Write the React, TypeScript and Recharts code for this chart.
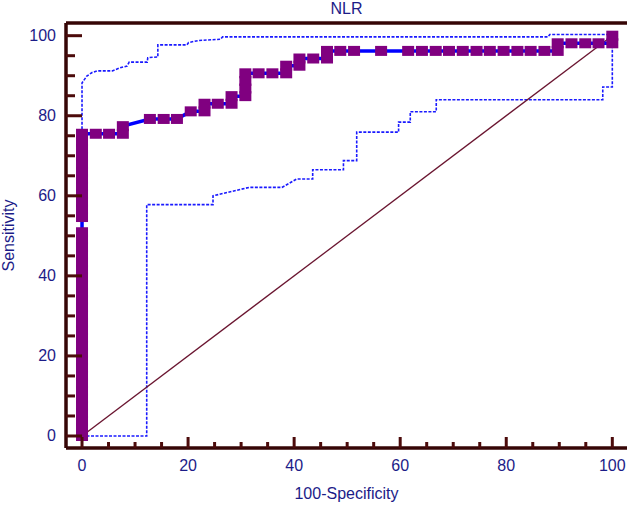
import React from "react"
import { ComposedChart, Line, XAxis, YAxis, Label } from "recharts"

// ROC curve for NLR
const rocSensAtZero = [
  0, 1.9, 3.8, 5.7, 7.5, 9.4, 11.3, 13.2, 15.1, 17.0, 18.9, 20.8, 22.6, 24.5,
  26.4, 28.3, 30.2, 32.1, 34.0, 35.8, 37.7, 39.6, 41.5, 43.4, 45.3, 47.2, 49.1,
  50.9, 54.7, 56.6, 58.5, 60.4, 62.3, 64.2, 66.0, 67.9, 69.8, 71.7, 73.6, 75.5,
]
const rocFpr = [
  2.6, 5.1, 7.7, 7.7, 12.8, 15.4, 17.9, 20.5, 23.1, 23.1, 25.6, 28.2, 28.2,
  30.8, 30.8, 30.8, 30.8, 33.3, 35.9, 38.5, 38.5, 41.0, 41.0, 43.6, 46.2, 46.2,
  48.7, 51.3, 56.4, 61.5, 64.1, 66.7, 69.2, 71.8, 74.4, 76.9, 79.5, 82.1, 84.6,
  87.2, 89.7, 89.7, 92.3, 94.9, 97.4, 100, 100,
]
const rocSens = [
  75.5, 75.5, 75.5, 77.4, 79.2, 79.2, 79.2, 81.1, 81.1, 83.0, 83.0, 83.0, 84.9,
  84.9, 86.8, 88.7, 90.6, 90.6, 90.6, 90.6, 92.5, 92.5, 94.3, 94.3, 94.3, 96.2,
  96.2, 96.2, 96.2, 96.2, 96.2, 96.2, 96.2, 96.2, 96.2, 96.2, 96.2, 96.2, 96.2,
  96.2, 96.2, 98.1, 98.1, 98.1, 98.1, 98.1, 100,
]

// 95% confidence bounds
const upperFpr = [
  0, 0, 0.9, 1.9, 2.8, 5.7, 7.2, 8.5, 8.9, 12.3, 12.4, 14.3, 14.3, 19.8, 20.1,
  22.0, 26.1, 26.5, 87.9, 88.2, 100,
]
const upperSens = [
  75.5, 88.2, 89.9, 90.8, 91.2, 91.2, 92.0, 92.4, 93.4, 93.4, 94.5, 94.7, 97.7,
  97.7, 98.3, 98.8, 99.1, 99.7, 99.7, 100.3, 100.3,
]
const lowerFpr = [
  0, 12.2, 12.2, 24.7, 24.7, 31.5, 37.7, 40.5, 43.5, 43.5, 49.3, 49.3, 51.8,
  51.8, 59.7, 59.7, 61.9, 61.9, 66.8, 66.8, 98.2, 98.2, 100, 100,
]
const lowerSens = [
  0, 0, 57.8, 57.8, 60.0, 62.1, 62.1, 64.2, 64.2, 66.5, 66.5, 68.8, 68.8, 75.9,
  75.9, 78.4, 78.4, 81.0, 81.0, 84.0, 84.0, 87.2, 87.2, 100,
]

const diagFpr = [0, 100]
const diagSens = [0, 100]

const axisTicks = [0, 5, 10, 15, 20, 25, 30, 35, 40, 45, 50, 55, 60, 65, 70, 75, 80, 85, 90, 95, 100]

const zip = (xs: number[], ys: number[]) => xs.map((x, i) => ({ fpr: x, sens: ys[i] }))

const rocData = [...rocSensAtZero.map((s) => ({ fpr: 0, sens: s })), ...zip(rocFpr, rocSens)]
const upperData = zip(upperFpr, upperSens)
const lowerData = zip(lowerFpr, lowerSens)
const diagData = zip(diagFpr, diagSens)

const FONT = "'Liberation Sans', Arial, sans-serif"
const TEXT = "#1c1c88"
const FRAME = "#360606"
const TICK = "#4c0b0b"
const xDomain = [-3.02, 102.77]
const yDomain = [-3.0, 103.17]

function YTick(props: any) {
  const { x, y, payload } = props
  const major = payload.value % 20 === 0
  return (
    <g>
      <line x1={x} y1={y} x2={x + (major ? 16 : 9)} y2={y} stroke={TICK} strokeWidth={3} />
      {major && (
        <text x={x - 10} y={y} dy={5.5} textAnchor="end" fill={TEXT} fontSize={16} fontFamily={FONT}>
          {payload.value}
        </text>
      )}
    </g>
  )
}

function XTick(props: any) {
  const { x, y, payload } = props
  const major = payload.value % 20 === 0
  return (
    <g>
      <line x1={x} y1={y} x2={x} y2={y - (major ? 11 : 6)} stroke={TICK} strokeWidth={3} />
      {major && (
        <text x={x} y={y + 23} textAnchor="middle" fill={TEXT} fontSize={16} fontFamily={FONT}>
          {payload.value}
        </text>
      )}
    </g>
  )
}

function Marker(props: any) {
  const { cx, cy, index } = props
  return <rect key={`m-${index}`} x={cx - 6} y={cy - 5} width={12} height={10} fill="#800080" />
}

export default function App() {
  return (
    <div style={{ position: "absolute", left: 0, top: 0 }}>
      <ComposedChart width={630} height={507} margin={{ top: 0, right: 3, bottom: 0, left: 0 }}>
        <XAxis
          dataKey="fpr"
          type="number"
          domain={xDomain}
          allowDataOverflow
          ticks={axisTicks}
          interval={0}
          height={59}
          tickSize={0}
          tickMargin={0}
          tickLine={false}
          tick={<XTick />}
          axisLine={{ stroke: FRAME, strokeWidth: 3.5 }}
        >
          <Label
            content={(p: any) => (
              <text
                x={p.viewBox.x + p.viewBox.width / 2}
                y={p.viewBox.y + 51}
                textAnchor="middle"
                fill={TEXT}
                fontSize={16}
                fontFamily={FONT}
              >
                100-Specificity
              </text>
            )}
          />
        </XAxis>
        <XAxis
          xAxisId="top"
          orientation="top"
          type="number"
          domain={xDomain}
          allowDataOverflow
          height={23}
          tick={false}
          tickLine={false}
          axisLine={{ stroke: FRAME, strokeWidth: 3.5 }}
        >
          <Label
            content={(p: any) => (
              <text
                x={p.viewBox.x + p.viewBox.width / 2}
                y={p.viewBox.y + p.viewBox.height - 9}
                textAnchor="middle"
                fill={TEXT}
                fontSize={16}
                fontFamily={FONT}
              >
                NLR
              </text>
            )}
          />
        </XAxis>
        <YAxis
          type="number"
          domain={yDomain}
          allowDataOverflow
          ticks={axisTicks}
          interval={0}
          width={66}
          tickSize={0}
          tickMargin={0}
          tickLine={false}
          tick={<YTick />}
          axisLine={{ stroke: FRAME, strokeWidth: 3.5 }}
        >
          <Label
            content={(p: any) => {
              const cy = p.viewBox.y + p.viewBox.height / 2
              return (
                <text
                  x={14}
                  y={cy}
                  transform={`rotate(-90, 14, ${cy})`}
                  textAnchor="middle"
                  fill={TEXT}
                  fontSize={16}
                  fontFamily={FONT}
                >
                  Sensitivity
                </text>
              )
            }}
          />
        </YAxis>
        <YAxis
          yAxisId="right"
          orientation="right"
          type="number"
          domain={yDomain}
          allowDataOverflow
          width={0}
          tick={false}
          tickLine={false}
          axisLine={{ stroke: FRAME, strokeWidth: 3.5 }}
        />

        <Line
          data={upperData}
          dataKey="sens"
          type="linear"
          stroke="#1a1aff"
          strokeWidth={1.6}
          strokeDasharray="3 1.5"
          dot={false}
          isAnimationActive={false}
        />
        <Line
          data={lowerData}
          dataKey="sens"
          type="linear"
          stroke="#1a1aff"
          strokeWidth={1.6}
          strokeDasharray="3 1.5"
          dot={false}
          isAnimationActive={false}
        />
        <Line
          data={diagData}
          dataKey="sens"
          type="linear"
          stroke="#6a1530"
          strokeWidth={1.3}
          dot={false}
          isAnimationActive={false}
        />
        <Line
          data={rocData}
          dataKey="sens"
          type="linear"
          stroke="#0000ff"
          strokeWidth={3.5}
          dot={<Marker />}
          isAnimationActive={false}
        />
      </ComposedChart>
    </div>
  )
}
